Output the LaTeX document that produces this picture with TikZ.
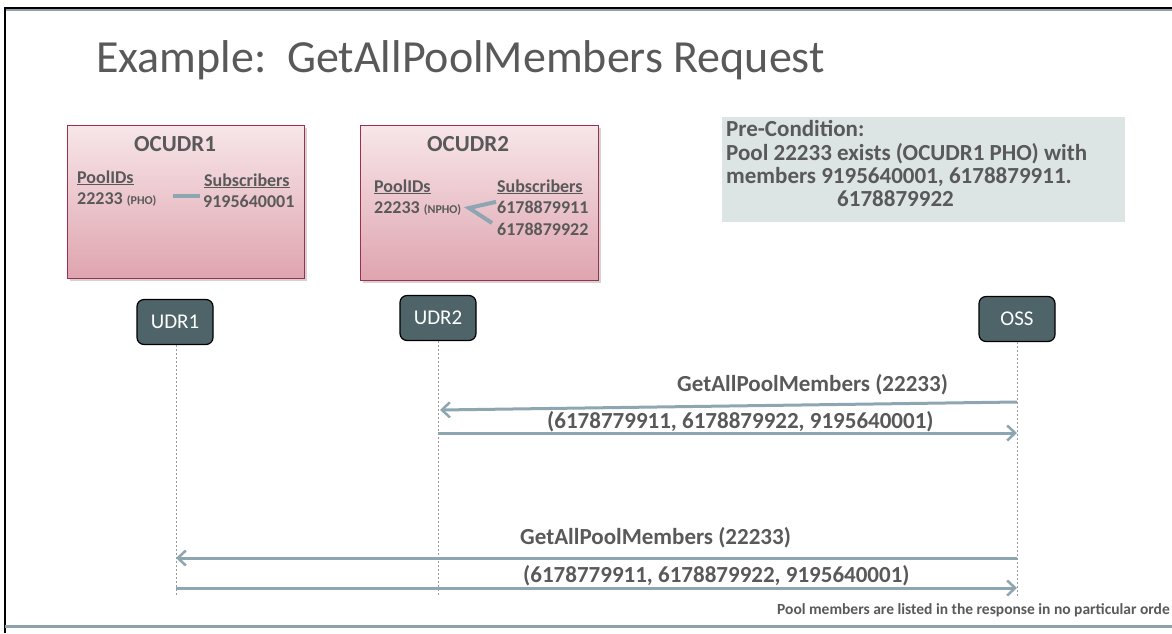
\documentclass[tikz,border=0pt]{standalone}
\usepackage{fontspec}
\setmainfont{Carlito}
\usetikzlibrary{arrows.meta,shadows}
\definecolor{txtgray}{HTML}{595959}
\definecolor{msgblue}{HTML}{8DA6B1}
\definecolor{nodeslate}{HTML}{4E6468}
\definecolor{pinktop}{HTML}{F7E6E9}
\definecolor{pinkbot}{HTML}{DFA4AF}
\definecolor{pinkedge}{HTML}{9E2F4C}
\definecolor{notefill}{HTML}{DCE4E4}
\definecolor{framegray}{HTML}{8FA1AA}
\newcommand\fsz[2]{\fontsize{#1}{#2}\selectfont}
\begin{document}
\begin{tikzpicture}[x=1pt,y=-1pt,
  dbbox/.style={draw=pinkedge,line width=1.2pt,top color=pinktop,bottom color=pinkbot,
    anchor=north west,inner sep=0pt,drop shadow={shadow xshift=2pt,shadow yshift=-2pt,opacity=.35}},
  lbl/.style={inner sep=0pt,text=txtgray,font=\bfseries},
  actor/.style={draw=black,line width=1.2pt,fill=nodeslate,rounded corners=7pt,
    minimum width=76pt,minimum height=45pt,inner sep=0pt,text=white,font=\fsz{21}{24}},
  life/.style={draw=gray!80,line width=0.6pt,dash pattern=on 2pt off 2pt},
  msg/.style={draw=msgblue,line width=3pt,-{Straight Barb[length=8pt,width=15pt,line width=2.5pt]}},
  link/.style={draw=msgblue,line width=4pt},
  msgtext/.style={lbl,anchor=base west,font=\bfseries\fsz{23}{27}},
  boxtext/.style={lbl,anchor=base west,font=\bfseries\fsz{18}{21}},
  notetext/.style={lbl,anchor=base west,font=\bfseries\fsz{23}{27}}]
\useasboundingbox (0,0) rectangle (1172,633);
\clip (0,0) rectangle (1172,633);

% slide frame
\draw[framegray,line width=2pt] (5,10) -- (1172,10);
\draw[black,line width=2pt] (5,7.5) -- (1172,7.5);
\draw[black,line width=2pt] (5,7) -- (5,633);
\draw[framegray,line width=3pt] (5,626) -- (1172,626);

% title
\node[anchor=base west,inner sep=0pt,text=txtgray,font=\fsz{46}{54}] (title) at (96,72)
  {Example:\ \ GetAllPoolMembers Request};

% database boxes
\node[dbbox,minimum width=237pt,minimum height=153pt] (db1) at (67,125) {};
\node[dbbox,minimum width=238pt,minimum height=155pt] (db2) at (360,125) {};

\node[lbl,anchor=base,font=\bfseries\fsz{23}{27}] (db1t) at (175,151) {OCUDR1};
\node[boxtext] (db1p) at (77,183) {\underline{PoolIDs}};
\node[boxtext] (db1s) at (204,186) {\underline{Subscribers}};
\node[boxtext] (db1id) at (77,204) {22233 {\fsz{12}{14}(PHO)}};
\node[boxtext] (db1m) at (203,207) {9195640001};
\draw[link] (db1m.west) ++(-30,-5) coordinate (l1a) -- ++(27,0) coordinate (l1b);

\node[lbl,anchor=base,font=\bfseries\fsz{23}{27}] (db2t) at (468,151) {OCUDR2};
\node[boxtext] (db2p) at (374,192) {\underline{PoolIDs}};
\node[boxtext] (db2s) at (497,192) {\underline{Subscribers}};
\node[boxtext] (db2id) at (374,213) {22233 {\fsz{12}{14}(NPHO)}};
\node[boxtext] (db2m1) at (497,213) {6178879911};
\node[boxtext] (db2m2) at (497,235) {6178879922};
\coordinate (l2v) at (469,208);
\draw[link] (db2m1.west) ++(-1,-5) -- (l2v) -- (492,223);

% pre-condition note
\node[fill=notefill,anchor=north west,minimum width=403pt,minimum height=105pt,inner sep=0pt] (note) at (722,117) {};
\node[notetext] (n1) at (726,136) {Pre-Condition:};
\node[notetext] (n2) at (726,160) {Pool 22233 exists (OCUDR1 PHO) with};
\node[notetext] (n3) at (726,183) {members 9195640001, 6178879911.};
\node[notetext] (n4) at (837,206) {6178879922};

% actors and lifelines
\node[actor] (udr1) at (175,322) {UDR1};
\node[actor] (udr2) at (438,318) {UDR2};
\node[actor] (oss) at (1017,319) {OSS};
\coordinate (e1) at (176,597);
\coordinate (e2) at (438,597);
\coordinate (e3) at (1017,597);
\draw[life] (udr1.south -| e1) -- (e1);
\draw[life] (udr2.south -| e2) -- (e2);
\draw[life] (oss.south -| e3) -- (e3);

% messages
\coordinate (m1s) at (1017,402);
\coordinate (m1e) at (440,410);
\coordinate (m2s) at (438,433);
\coordinate (m2e) at (1017,433);
\coordinate (m3s) at (1017,558);
\coordinate (m3e) at (176,558);
\coordinate (m4s) at (176,588);
\coordinate (m4e) at (1017,588);
\draw[msg] (m1s) -- (m1e);
\draw[msg] (m2s) -- (m2e);
\draw[msg] (m3s) -- (m3e);
\draw[msg] (m4s) -- (m4e);

\node[msgtext] (t1) at (677,391) {GetAllPoolMembers (22233)};
\node[msgtext] (t2) at (547,428) {(6178779911, 6178879922, 9195640001)};
\node[msgtext] (t3) at (520,544) {GetAllPoolMembers (22233)};
\node[msgtext] (t4) at (523,582) {(6178779911, 6178879922, 9195640001)};

% footnote, right-aligned against the slide edge
\node[lbl,anchor=base east,font=\bfseries\fsz{15.5}{18}] (foot) at (1170,614)
  {Pool members are listed in the response in no particular orde};
\end{tikzpicture}
\end{document}
